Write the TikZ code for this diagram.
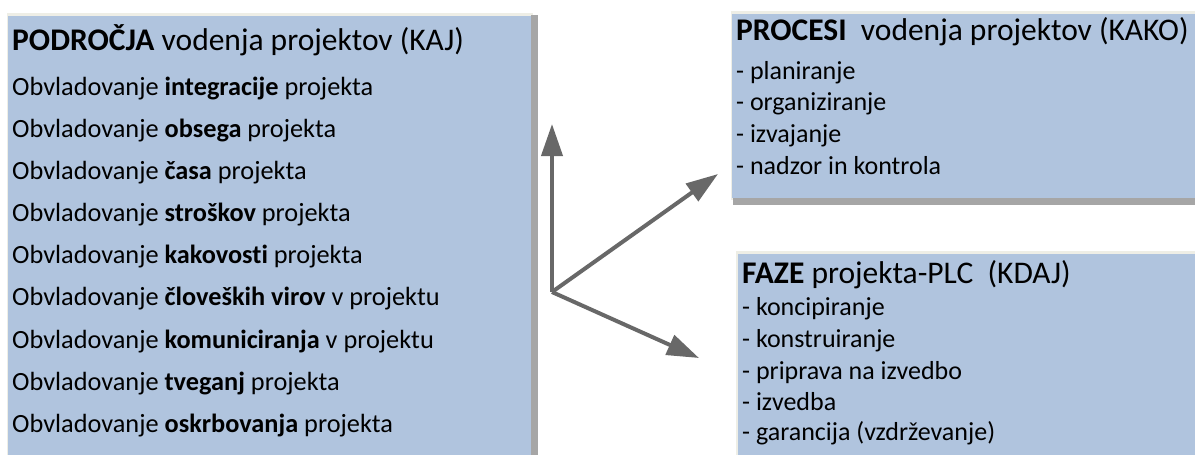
\documentclass[tikz,border=0pt]{standalone}
\usepackage{fontspec}
\setmainfont{Carlito}[Ligatures=NoCommon]
\usetikzlibrary{arrows.meta}
\definecolor{boxfill}{HTML}{B0C4DE}
\definecolor{boxshade}{HTML}{A6A6A6}
\definecolor{boxlight}{HTML}{EEEEE6}
\definecolor{arrowgray}{HTML}{686868}
\begin{document}
\begin{tikzpicture}[x=1pt,y=-1pt,
  boxbody/.style={fill=boxfill,draw=none},
  title/.style={anchor=mid west,inner sep=0pt,font=\fontsize{31.5}{36}\selectfont},
  lefttxt/.style={anchor=mid west,inner sep=0pt,font=\fontsize{26.3}{30}\selectfont},
  righttxt/.style={anchor=mid west,inner sep=0pt,font=\fontsize{26}{30}\selectfont},
  arr/.style={draw=arrowgray,line width=4pt,-{Triangle[length=32pt,width=21pt]}}]
\useasboundingbox (0,0) rectangle (1195,455);
% left box
\fill[boxlight] (7,13) rectangle (533,455);
\fill[boxshade] (531,15) rectangle (538,455);
\node[boxbody,minimum width=523pt,minimum height=440pt,anchor=north west,inner sep=0pt] (left) at (8,16) {};
% right top box
\fill[boxlight] (731,11) rectangle (1195,200);
\fill[boxshade] (733,197) rectangle (1195,205);
\node[boxbody,minimum width=463pt,minimum height=184pt,anchor=north west,inner sep=0pt] (proc) at (732,14) {};
% right bottom box
\fill[boxlight] (736,251) rectangle (1195,455);
\node[boxbody,minimum width=458pt,minimum height=202pt,anchor=north west,inner sep=0pt] (faze) at (738,254) {};
% left texts
\node[title] (t1) at (12,48) {\textbf{PODROČJA} vodenja projektov (KAJ)};
\node[lefttxt] (l1) at (12,93) {Obvladovanje \textbf{integracije} projekta};
\node[lefttxt] (l2) at (12,135) {Obvladovanje \textbf{obsega} projekta};
\node[lefttxt] (l3) at (12,177) {Obvladovanje \textbf{časa} projekta};
\node[lefttxt] (l4) at (12,219) {Obvladovanje \textbf{stroškov} projekta};
\node[lefttxt] (l5) at (12,261) {Obvladovanje \textbf{kakovosti} projekta};
\node[lefttxt] (l6) at (12,303) {Obvladovanje \textbf{človeških virov} v projektu};
\node[lefttxt] (l7) at (12,346) {Obvladovanje \textbf{komuniciranja} v projektu};
\node[lefttxt] (l8) at (12,388) {Obvladovanje \textbf{tveganj} projekta};
\node[lefttxt] (l9) at (12,430) {Obvladovanje \textbf{oskrbovanja} projekta};
% right top texts
\node[title] (t2) at (736,38) {\textbf{PROCESI}\ \ vodenja projektov (KAKO)};
\node[righttxt] (p1) at (736,77) {- planiranje};
\node[righttxt] (p2) at (736,108) {- organiziranje};
\node[righttxt] (p3) at (736,140) {- izvajanje};
\node[righttxt] (p4) at (736,172) {- nadzor in kontrola};
% right bottom texts
\node[title] (t3) at (742,281) {\textbf{FAZE} projekta-PLC\ \ (KDAJ)};
\node[righttxt] (f1) at (742,313) {- koncipiranje};
\node[righttxt] (f2) at (742,345) {- konstruiranje};
\node[righttxt] (f3) at (742,377) {- priprava na izvedbo};
\node[righttxt] (f4) at (742,408) {- izvedba};
\node[righttxt] (f5) at (742,438) {- garancija (vzdrževanje)};
% arrows
\coordinate (o) at (552,292);
\coordinate (up) at (552,124);
\coordinate (ur) at (718,174);
\coordinate (dr) at (699,358);
\draw[arr] (o) -- (up);
\draw[arr] (o) -- (ur);
\draw[arr] (o) -- (dr);
\end{tikzpicture}
\end{document}
